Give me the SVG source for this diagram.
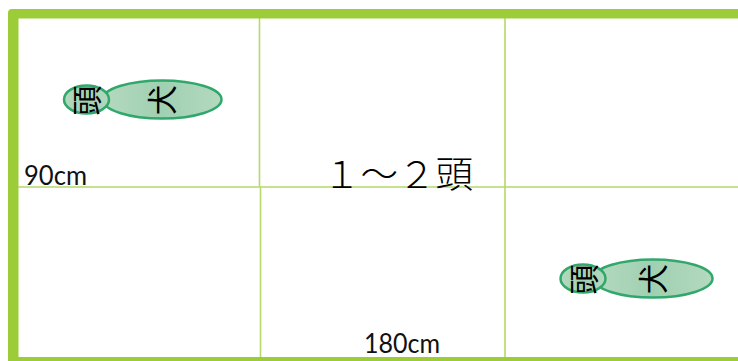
<svg xmlns="http://www.w3.org/2000/svg" width="738" height="361" viewBox="0 0 738 361">
<style>
.g{stroke:#b5d96b;stroke-width:1.6;fill:none}
.b{fill:url(#eg);stroke:#31a76c;stroke-width:2.500}
.t{font-family:"Noto Sans CJK JP","Liberation Sans",sans-serif;fill:#000}
.c{font-family:"Lato","Liberation Sans",sans-serif;font-size:27px;fill:#111}
.o{fill:#9ccd38}
</style>
<defs>
<linearGradient id="eg" x1="0" y1="0" x2="1" y2="0">
<stop offset="0" stop-color="#b4d9bf"/><stop offset="0.5" stop-color="#a0d0b2"/><stop offset="1" stop-color="#b4d9bf"/>
</linearGradient>
</defs>
<rect width="738" height="361" fill="#fff"/>
<g id="grid">
<path class="g" d="M259.500 18V186.500M260.500 186.500V357M505 18V357M18 187H738"/>
</g>
<g id="frame">
<path class="o" d="M12 9H738V18.500H18.500V357H738V361H8V13Q8 9 12 9Z"/>
</g>
<g id="dog1">
<ellipse class="b" cx="162" cy="99.500" rx="59.500" ry="19"/>
<ellipse class="b" cx="86.500" cy="99.500" rx="22.500" ry="14"/>
<text class="t" font-size="30" text-anchor="middle" transform="translate(173 100) rotate(-90)">犬</text>
<text class="t" font-size="30" text-anchor="middle" transform="translate(98 100.500) rotate(-90)">頭</text>
</g>
<g id="dog2">
<ellipse class="b" cx="653" cy="278.500" rx="59.500" ry="19"/>
<ellipse class="b" cx="583" cy="278.500" rx="22.500" ry="14"/>
<text class="t" font-size="30" text-anchor="middle" transform="translate(664 279) rotate(-90)">犬</text>
<text class="t" font-size="30" text-anchor="middle" transform="translate(595 279.500) rotate(-90)">頭</text>
</g>
<text class="t" x="323" y="188" font-size="37" textLength="150" lengthAdjust="spacingAndGlyphs" font-weight="300">１～２頭</text>
<text class="c" x="24" y="185" textLength="63" lengthAdjust="spacingAndGlyphs">90cm</text>
<text class="c" x="364" y="353" textLength="76" lengthAdjust="spacingAndGlyphs">180cm</text>
</svg>
